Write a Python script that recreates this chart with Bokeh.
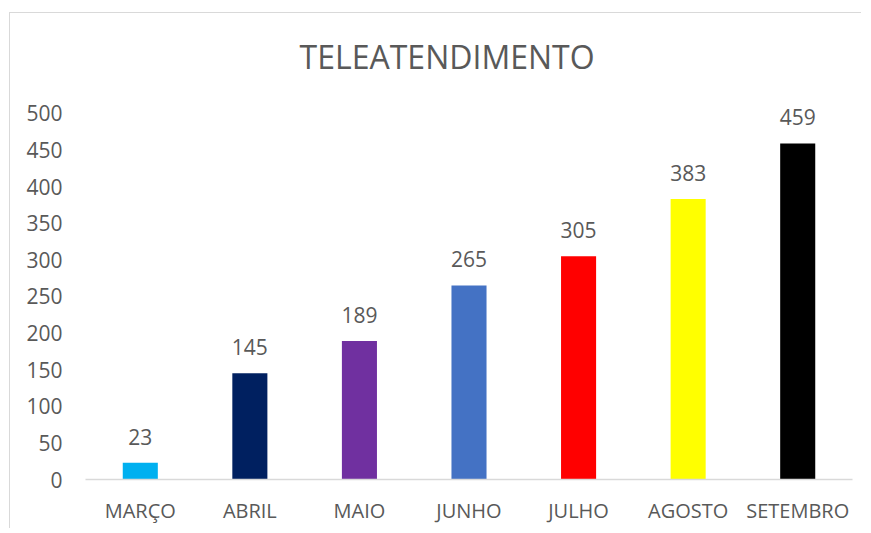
from bokeh.plotting import figure
from bokeh.models import ColumnDataSource, FactorRange, Range1d, FixedTicker, Label
from bokeh.embed import file_html
from bokeh.resources import INLINE
from bokeh.core.properties import value

months = ["MARÇO", "ABRIL", "MAIO", "JUNHO", "JULHO", "AGOSTO", "SETEMBRO"]
counts = [23, 145, 189, 265, 305, 383, 459]
colors = ["#00B0F0", "#002060", "#7030A0", "#4472C4", "#FF0000", "#FFFF00", "#000000"]
y_ticks = [0, 50, 100, 150, 200, 250, 300, 350, 400, 450, 500]
title_text = "TELEATENDIMENTO"

FONT = "Open Sans"
TXT = "#595959"

src = ColumnDataSource(dict(m=months, v=counts, c=colors, t=[str(v) for v in counts]))

p = figure(width=852, height=516, x_range=FactorRange(*months, range_padding=0),
           y_range=Range1d(0, 620), output_backend="svg", toolbar_location=None,
           min_border_left=75, min_border_right=10, min_border_top=12, min_border_bottom=50)
p.styles = {"border-left": "1px solid #d9d9d9", "border-top": "1px solid #d9d9d9",
            "margin-left": "9px", "margin-top": "12px"}
p.outline_line_color = None
p.grid.grid_line_color = None
p.background_fill_color = "white"
p.border_fill_color = "white"

p.vbar(x="m", top="v", width=0.32, color="c", source=src, line_color=None)
p.text(x="m", y="v", text="t", source=src, text_align="center", text_baseline="bottom",
       y_offset=-18, text_font=value(FONT), text_font_size="21px", text_color=TXT)

p.add_layout(Label(x=3.30, y=578, text=title_text, text_align="center", text_baseline="middle",
                   text_font=FONT, text_font_size="32px", text_color=TXT))

p.yaxis.ticker = FixedTicker(ticks=y_ticks)
p.yaxis.axis_line_color = None
p.yaxis.major_tick_line_color = None
p.yaxis.minor_tick_line_color = None
p.yaxis.major_label_standoff = 17
p.yaxis.major_label_text_font = FONT
p.yaxis.major_label_text_font_size = "21px"
p.yaxis.major_label_text_color = TXT

p.xaxis.axis_line_color = "#D9D9D9"
p.xaxis.axis_line_width = 1.5
p.xaxis.major_tick_line_color = None
p.xaxis.minor_tick_line_color = None
p.xaxis.major_label_standoff = 11
p.xaxis.major_label_text_font = FONT
p.xaxis.major_label_text_font_size = "20px"
p.xaxis.major_label_text_color = TXT

open("out.html", "w").write(file_html(p, INLINE))
